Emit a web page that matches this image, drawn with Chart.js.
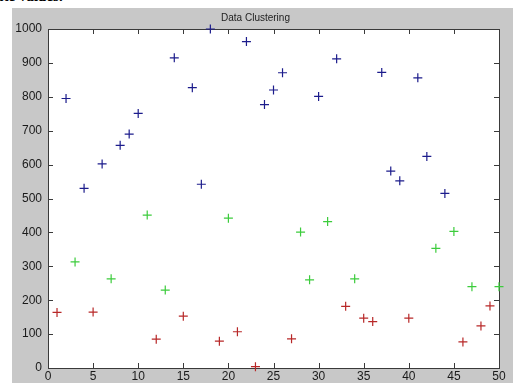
<!DOCTYPE html>
<html>
<head>
<meta charset="utf-8">
<script src="https://cdn.jsdelivr.net/npm/chart.js@4.4.1/dist/chart.umd.min.js"></script>
<style>
  html, body { margin: 0; padding: 0; background: #ffffff; width: 513px; height: 383px; overflow: hidden; }
  #cap { position: absolute; left: 0; top: 0; width: 200px; height: 8px; overflow: hidden; }
  #cap span { position: absolute; left: -4px; top: -12px; font: bold 15px "Liberation Serif", serif; color: #000; white-space: nowrap; }
  #wrap { position: absolute; left: 12px; top: 8px; width: 501px; height: 375px; background: #c8c8c8; }
  canvas { display: block; }
</style>
</head>
<body>
<div id="cap"><span>ate values.</span></div>
<div id="wrap"><canvas id="c" width="501" height="375"></canvas></div>
<script>
// Cluster 1 (blue)
const blueX = [2, 4, 6, 8, 9, 10, 14, 16, 17, 18, 22, 24, 25, 26, 30, 32, 37, 38, 39, 41, 42, 44];
const blueY = [795, 530, 602, 657, 690, 751, 915, 827, 542, 1000, 963, 777, 820, 871, 801, 912, 872, 581, 552, 856, 624, 515];
// Cluster 2 (green)
const greenX = [3, 7, 11, 13, 20, 28, 29, 31, 34, 43, 45, 47, 50];
const greenY = [313, 263, 451, 230, 442, 401, 260, 432, 263, 353, 403, 240, 240];
// Cluster 3 (red)
const redX = [1, 5, 12, 15, 19, 21, 23, 27, 33, 35, 36, 40, 46, 48, 49];
const redY = [164, 165, 85, 153, 79, 107, 4, 86, 182, 147, 137, 147, 77, 124, 183];

const titleText = "Data Clustering";
const xTicks = [0, 5, 10, 15, 20, 25, 30, 35, 40, 45, 50];
const yTicks = [0, 100, 200, 300, 400, 500, 600, 700, 800, 900, 1000];

const pts = (xs, ys) => xs.map((x, i) => ({ x: x, y: ys[i] }));

const boxPlugin = {
  id: 'box',
  beforeDatasetsDraw(chart) {
    const { ctx, chartArea: a, scales } = chart;
    ctx.save();
    ctx.strokeStyle = '#3a3a3a';
    ctx.lineWidth = 1;
    ctx.strokeRect(Math.round(a.left) + 0.5, Math.round(a.top) + 0.5, Math.round(a.right - a.left), Math.round(a.bottom - a.top));
    ctx.beginPath();
    xTicks.forEach(v => {
      const px = Math.round(scales.x.getPixelForValue(v)) + 0.5;
      ctx.moveTo(px, a.bottom); ctx.lineTo(px, a.bottom - 5);
      ctx.moveTo(px, a.top); ctx.lineTo(px, a.top + 5);
    });
    yTicks.forEach(v => {
      const py = Math.round(scales.y.getPixelForValue(v)) + 0.5;
      ctx.moveTo(a.left, py); ctx.lineTo(a.left + 5, py);
      ctx.moveTo(a.right, py); ctx.lineTo(a.right - 5, py);
    });
    ctx.stroke();
    ctx.restore();
  }
};

const bgPlugin = {
  id: 'bg',
  beforeDraw(chart) {
    const { ctx, chartArea: a } = chart;
    ctx.save();
    ctx.fillStyle = '#ffffff';
    ctx.fillRect(a.left, a.top, a.right - a.left, a.bottom - a.top);
    ctx.restore();
  }
};

const ds = (data, color) => ({
  data: data,
  pointStyle: 'cross',
  pointRadius: 4.5,
  pointHoverRadius: 4.5,
  borderColor: color,
  backgroundColor: color,
  borderWidth: 1.2,
  showLine: false,
  clip: false
});

new Chart(document.getElementById('c'), {
  type: 'scatter',
  data: {
    datasets: [
      ds(pts(blueX, blueY), '#1c1c8c'),
      ds(pts(greenX, greenY), '#3ccc3c'),
      ds(pts(redX, redY), '#b82828')
    ]
  },
  options: {
    responsive: false,
    animation: false,
    events: [],
    layout: { padding: { left: 0, right: 14, top: 0, bottom: 0 } },
    plugins: {
      legend: { display: false },
      tooltip: { enabled: false },
      title: {
        display: true,
        text: titleText,
        color: '#222222',
        font: { family: 'Liberation Sans', size: 10, weight: 'normal', lineHeight: 1.2 },
        padding: { top: 4, bottom: 5 }
      }
    },
    scales: {
      x: {
        type: 'linear',
        min: 0, max: 50,
        afterBuildTicks(s) { s.ticks = xTicks.map(v => ({ value: v })); },
        afterFit(s) { s.height = 15; },
        grid: { display: false, drawTicks: false },
        border: { display: false },
        ticks: {
          padding: 1,
          maxRotation: 0,
          autoSkip: false,
          color: '#1a1a1a',
          callback: v => String(v),
          font: { family: 'Liberation Sans', size: 12 }
        }
      },
      y: {
        type: 'linear',
        min: 0, max: 1000,
        afterBuildTicks(s) { s.ticks = yTicks.map(v => ({ value: v })); },
        afterFit(s) { s.width = 36; },
        grid: { display: false, drawTicks: false },
        border: { display: false },
        ticks: {
          padding: 6,
          autoSkip: false,
          color: '#1a1a1a',
          callback: v => String(v),
          font: { family: 'Liberation Sans', size: 12 }
        }
      }
    }
  },
  plugins: [bgPlugin, boxPlugin]
});
</script>
</body>
</html>
